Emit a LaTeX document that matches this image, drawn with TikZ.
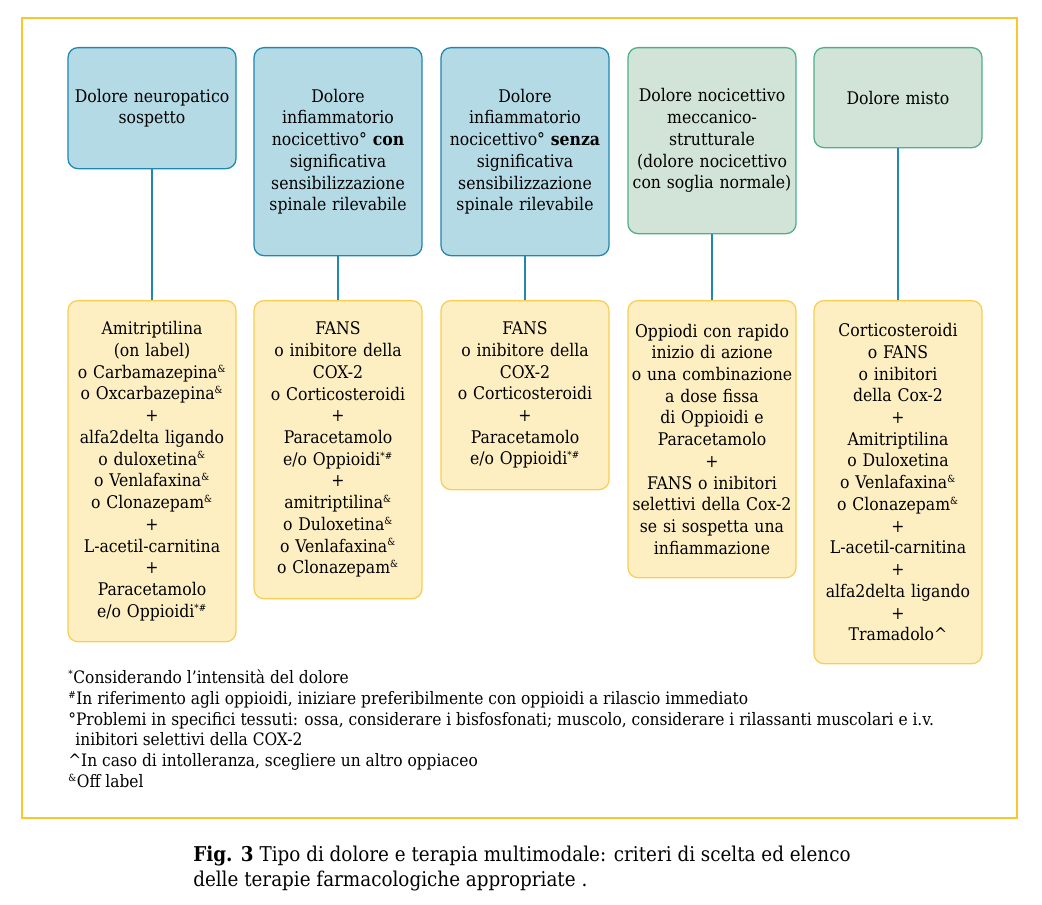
\documentclass[tikz,border=0pt]{standalone}
\usepackage{fontspec}
\setmainfont{DejaVu Serif Condensed}
\usetikzlibrary{calc}

\definecolor{bluefill}{HTML}{B4DAE6}
\definecolor{blueline}{HTML}{1F87B0}
\definecolor{greenfill}{HTML}{D1E4D7}
\definecolor{greenline}{HTML}{4FAF8A}
\definecolor{yellowfill}{HTML}{FEEFC3}
\definecolor{yellowline}{HTML}{F9CE55}
\definecolor{framecol}{HTML}{F9C72C}

\newcommand{\sups}[1]{\textsuperscript{\scriptsize #1}}

\begin{document}
\begin{tikzpicture}[x=0.025cm,y=-0.025cm,
	box/.style={rounded corners=0.25cm, line width=0.9pt, anchor=north, align=center,
		text width=4.15cm, minimum width=4.2cm, inner sep=0.025cm,
		font=\fontsize{12.4}{15.45}\selectfont},
	bluebox/.style={box, draw=blueline, fill=bluefill},
	greenbox/.style={box, draw=greenline, fill=greenfill},
	therbox/.style={box, draw=yellowline, fill=yellowfill},
	link/.style={blueline, line width=1.3pt}]
	
	\useasboundingbox (0,0) rectangle (1042,905);
	
	% cornice
	\draw[framecol, line width=1.8pt] (22,18) rectangle (1017,818);
	
	% tipi di dolore
	\node[bluebox, minimum height=3.025cm] (t1) at (152,47) {Dolore neuropatico\\sospetto};
	\node[bluebox, minimum height=5.2cm] (t2) at (338,47) {Dolore\\infiammatorio\\nocicettivo° \textbf{con}\\significativa\\sensibilizzazione\\spinale rilevabile};
	\node[bluebox, minimum height=5.2cm] (t3) at (525,47) {Dolore\\infiammatorio\\nocicettivo° \textbf{senza}\\significativa\\sensibilizzazione\\spinale rilevabile};
	\node[greenbox, minimum height=4.65cm] (t4) at (712,47) {Dolore nocicettivo\\meccanico-\\strutturale\\(dolore nocicettivo\\con soglia normale)};
	\node[greenbox, minimum height=2.5cm] (t5) at (898,47) {Dolore misto};
	
	% terapie
	\node[therbox, minimum height=8.525cm] (f1) at (152,300) {Amitriptilina\\(on label)\\o Carbamazepina\sups{\&}\\o Oxcarbazepina\sups{\&}\\+\\alfa2delta ligando\\o duloxetina\sups{\&}\\o Venlafaxina\sups{\&}\\o Clonazepam\sups{\&}\\+\\L-acetil-carnitina\\+\\Paracetamolo\\e/o Oppioidi\sups{*\#}};
	\node[therbox, minimum height=7.45cm] (f2) at (338,300) {FANS\\o inibitore della\\COX-2\\o Corticosteroidi\\+\\Paracetamolo\\e/o Oppioidi\sups{*\#}\\+\\amitriptilina\sups{\&}\\o Duloxetina\sups{\&}\\o Venlafaxina\sups{\&}\\o Clonazepam\sups{\&}};
	\node[therbox, minimum height=4.725cm] (f3) at (525,300) {FANS\\o inibitore della\\COX-2\\o Corticosteroidi\\+\\Paracetamolo\\e/o Oppioidi\sups{*\#}};
	\node[therbox, minimum height=6.925cm] (f4) at (712,300) {Oppiodi con rapido\\inizio di azione\\o una combinazione\\a dose fissa\\di Oppioidi e\\Paracetamolo\\+\\FANS o inibitori\\selettivi della Cox-2\\se si sospetta una\\infiammazione};
	\node[therbox, minimum height=9.075cm] (f5) at (898,300) {Corticosteroidi\\o FANS\\o inibitori\\della Cox-2\\+\\Amitriptilina\\o Duloxetina\\o Venlafaxina\sups{\&}\\o Clonazepam\sups{\&}\\+\\L-acetil-carnitina\\+\\alfa2delta ligando\\+\\Tramadolo\textasciicircum};
	
	\foreach \i in {1,...,5}
		\draw[link] (t\i.south) -- (f\i.north);
	
	% note
	\node[anchor=north west, align=left, inner sep=0pt, font=\fontsize{12.2}{14.7}\selectfont] (note) at (68,670)
		{\sups{*}Considerando l'intensità del dolore\\
		 \sups{\#}In riferimento agli oppioidi, iniziare preferibilmente con oppioidi a rilascio immediato\\
		 °Problemi in specifici tessuti: ossa, considerare i bisfosfonati; muscolo, considerare i rilassanti muscolari e i.v.\\
		 \hspace*{0.18cm}inibitori selettivi della COX-2\\
		 \textasciicircum In caso di intolleranza, scegliere un altro oppiaceo\\
		 \sups{\&}Off label};
	
	% didascalia
	\node[anchor=north west, align=left, inner sep=0pt, font=\fontsize{14.5}{17.7}\selectfont] (caption) at (193,846)
		{\textbf{Fig. 3} Tipo di dolore e terapia multimodale: criteri di scelta ed elenco\\
		 delle terapie farmacologiche appropriate .};
\end{tikzpicture}
\end{document}
